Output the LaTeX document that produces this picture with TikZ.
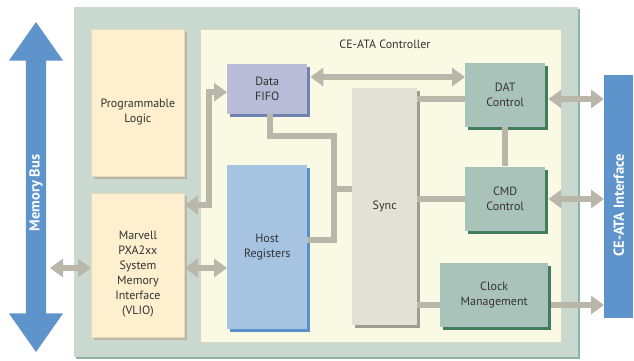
\documentclass[tikz,border=0pt]{standalone}
\usepackage{fontspec}
\setmainfont{PT Sans}
\usetikzlibrary{positioning,shapes.arrows,shadows,arrows.meta}

\definecolor{boardgreen}{HTML}{C9D9D0}
\definecolor{boardedge}{HTML}{8DB4A4}
\definecolor{ctrlcream}{HTML}{FAF9E3}
\definecolor{ctrledge}{HTML}{D9D7C2}
\definecolor{gluecream}{HTML}{FEF0CF}
\definecolor{glueedge}{HTML}{E6DBB6}
\definecolor{glueshadow}{HTML}{B8B6A6}
\definecolor{fifofill}{HTML}{B8BCD6}
\definecolor{fifoshadow}{HTML}{6F82B2}
\definecolor{regfill}{HTML}{A6C3E2}
\definecolor{regshadow}{HTML}{5B90CA}
\definecolor{syncfill}{HTML}{E3E1D6}
\definecolor{syncshadow}{HTML}{9E9D91}
\definecolor{ctlfill}{HTML}{AAC3BA}
\definecolor{ctlshadow}{HTML}{3F7D5E}
\definecolor{busblue}{HTML}{5E94CB}
\definecolor{wire}{HTML}{B8B7AA}
\definecolor{ink}{HTML}{333333}

\begin{document}
\begin{tikzpicture}[
    x=1pt, y=-1pt,
    every node/.style={font=\fontsize{12}{15}\selectfont, text=ink, align=center},
    block/.style 2 args={rectangle, anchor=north west, inner sep=0pt, fill=#1,
      drop shadow={fill=#2, opacity=1, shadow xshift=3pt, shadow yshift=-3pt}},
    glue/.style={block={gluecream}{glueshadow}, draw=glueedge, line width=0.8pt},
    ctl/.style={block={ctlfill}{ctlshadow}, minimum width=80pt, minimum height=64pt},
    banner/.style={text=white, font=\fontsize{14.5}{17}\selectfont\bfseries},
    bus/.style={draw=wire, line width=6.5pt},
    biarrow/.style={bus, {Triangle[width=18pt,length=13pt]}-{Triangle[width=18pt,length=13pt]}},
    toport/.style={bus, -{Triangle[width=18pt,length=13pt]}}
  ]
  \useasboundingbox (0,0) rectangle (634,360);

  % Board and controller area
  \node[rectangle, anchor=north west, inner sep=0pt, fill=boardgreen,
    drop shadow={fill=boardedge, opacity=1, shadow xshift=2pt, shadow yshift=-2pt},
    minimum width=504pt, minimum height=350pt] (board) at (74,7) {};
  \node[rectangle, anchor=north west, inner sep=0pt, fill=ctrlcream, draw=ctrledge,
    line width=1.2pt, minimum width=361pt, minimum height=313pt] (ctrl) at (200,29) {};
  \node (ctrltitle) at (385,44) {CE-ATA Controller};

  % Buses on both sides
  \node[double arrow, rotate=90, fill=busblue, minimum height=330pt, minimum width=54pt,
    double arrow head extend=15pt, double arrow tip angle=70, inner sep=2pt, banner]
    (membus) at (36,187) {Memory Bus\hspace*{12pt}};
  \node[rectangle, anchor=north west, inner sep=0pt, fill=busblue, minimum width=29pt,
    minimum height=243pt, banner] (ifc) at (604,75) {\rotatebox{90}{CE-ATA Interface\hspace*{17pt}}};

  % Define blocks
  \node[glue, minimum width=93pt, minimum height=147pt] (proglogic) at (91,29) {\mbox{}\\[12pt]Programmable\\Logic};
  \node[glue, minimum width=93pt, minimum height=144pt, below=16pt of proglogic] (vlio)
    {\mbox{}\\[12pt]Marvell\\PXA2xx\\System\\Memory\\Interface\\(VLIO)};
  \node[block={fifofill}{fifoshadow}, minimum width=80pt, minimum height=50pt] (fifo) at (227,64) {Data\\FIFO};
  \node[block={regfill}{regshadow}, minimum width=80pt, minimum height=164pt] (hostreg) at (227,165) {Host\\Registers};
  \node[block={syncfill}{syncshadow}, minimum width=65pt, minimum height=237pt] (sync) at (352,88) {Sync};
  \node[ctl] (dat) at (465,63) {DAT\\Control};
  \node[ctl, below=39pt of dat] (cmd) {CMD\\Control};
  \node[ctl, minimum width=108pt] (clk) at (440,263) {Clock\\Management};

  % Rows and joints of the buses
  \coordinate (busrow) at (50,268);
  \coordinate (fifotap) at (209,205);
  \coordinate (fiforow) at (0,77);
  \coordinate (merge) at (334,136);
  \coordinate (synctap) at (334,189);
  \coordinate (regtap) at (334,240);
  \coordinate (datrow) at (0,99);
  \coordinate (cmdrow) at (0,199);
  \coordinate (clkrow) at (0,305);

  % Draw connectors
  \draw[biarrow] (busrow) -- (vlio.west |- busrow);
  \draw[biarrow] (vlio.east |- busrow) -- (hostreg.west |- busrow);
  \draw[biarrow] (vlio.east |- fifotap) -- (fifotap) |- ([yshift=-3pt]fifo.west);
  \draw[biarrow, shorten <=3pt] (fifo.east |- fiforow) -- (dat.west |- fiforow);
  \draw[bus] ([xshift=3pt]fifo.south) |- (merge) -- (regtap) -- (hostreg.east |- regtap);
  \draw[bus] (synctap) -- (sync.west |- synctap);
  \draw[bus] (sync.east |- datrow) -- (dat.west |- datrow);
  \draw[bus] (sync.east |- cmdrow) -- (cmd.west |- cmdrow);
  \draw[bus] (sync.east |- clkrow) -- (clk.west |- clkrow);
  \draw[bus] (dat.south) -- (cmd.north);
  \draw[biarrow, shorten <=3pt] (dat.east |- datrow) -- (ifc.west |- datrow);
  \draw[biarrow, shorten <=3pt] (cmd.east |- cmdrow) -- (ifc.west |- cmdrow);
  \draw[toport, shorten <=3pt] (clk.east |- clkrow) -- (ifc.west |- clkrow);
\end{tikzpicture}
\end{document}
